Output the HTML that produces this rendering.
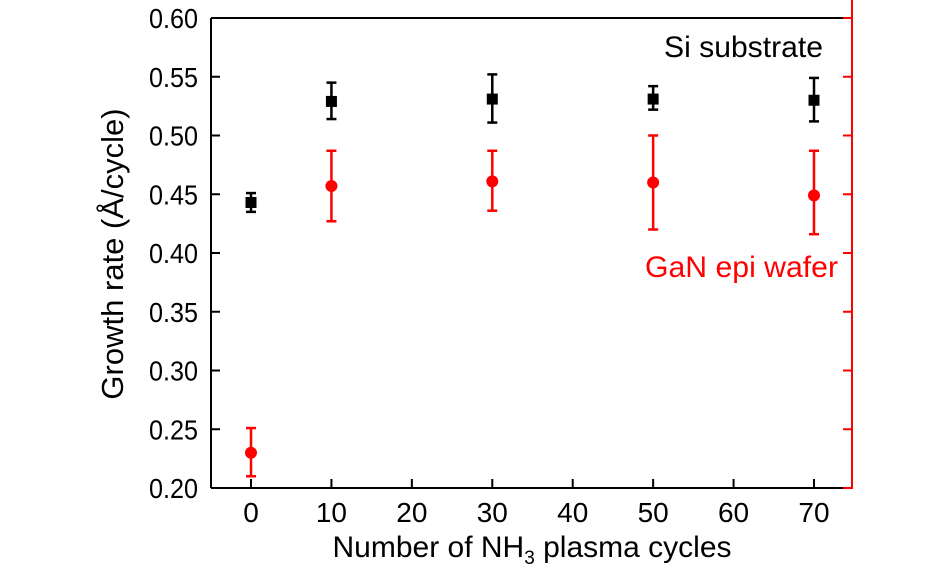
<!DOCTYPE html>
<html><head><meta charset="utf-8"><style>
html,body{margin:0;padding:0;background:#fff;}
svg{display:block;font-family:"Liberation Sans",sans-serif;}
</style></head><body>
<svg id="chart" width="945" height="573" viewBox="0 0 945 573"></svg>
<script>
const xTicks=[0,10,20,30,40,50,60,70];
const yTicks=[0.20,0.25,0.30,0.35,0.40,0.45,0.50,0.55,0.60];
const cycles=[0,10,30,50,70];
const siVals=[0.443,0.529,0.531,0.531,0.530];
const siLo=[0.435,0.514,0.511,0.522,0.512];
const siHi=[0.451,0.545,0.552,0.542,0.549];
const ganVals=[0.230,0.457,0.461,0.460,0.449];
const ganLo=[0.210,0.427,0.436,0.420,0.416];
const ganHi=[0.251,0.487,0.487,0.500,0.487];

const L=211,R=852,T=18,B=488;
const xs=v=>251+(v-0)*(814-251)/70;
const ys=v=>B-(v-0.2)*(B-T)/0.4;
const svg=document.getElementById('chart');
const NS='http://www.w3.org/2000/svg';
function mk(tag,attrs,parent){const e=document.createElementNS(NS,tag);for(const k in attrs)e.setAttribute(k,attrs[k]);(parent||svg).appendChild(e);return e;}

let e;
e=mk('line',{x1:L,y1:T,x2:L,y2:B,stroke:'#000','stroke-width':2});


e=mk('line',{x1:L,y1:T,x2:R,y2:T,stroke:'#000','stroke-width':2});


e=mk('line',{x1:L,y1:B,x2:R,y2:B,stroke:'#000','stroke-width':2});


e=mk('line',{x1:R,y1:0,x2:R,y2:B+1,stroke:'#f00','stroke-width':2});



yTicks.forEach(v=>{
  const y=ys(v);
  let t=mk('line',{x1:L,y1:y,x2:L+9,y2:y,stroke:'#000','stroke-width':2});
  
  
  t=mk('line',{x1:R-9,y1:y,x2:R,y2:y,stroke:'#f00','stroke-width':2});
  
  
  const lb=mk('text',{x:L-13,y:y+10,'text-anchor':'end','font-size':28,fill:'#000',textLength:49,lengthAdjust:'spacingAndGlyphs'});
  lb.textContent=v.toFixed(2);
  
  
});
xTicks.forEach(v=>{
  const x=xs(v);
  let t=mk('line',{x1:x,y1:B,x2:x,y2:B-9,stroke:'#000','stroke-width':2});
  
  
  const lb=mk('text',{x:x,y:B+34,'text-anchor':'middle','font-size':28,fill:'#000'});
  lb.textContent=v;
  
  
});

function series(vals,lo,hi,color,name,shape){
  cycles.forEach((c,i)=>{
    const x=xs(c);
    const g=mk('g',{});
    
    
    mk('line',{x1:x,y1:ys(lo[i]),x2:x,y2:ys(hi[i]),stroke:color,'stroke-width':2.5},g);
    mk('line',{x1:x-5,y1:ys(lo[i]),x2:x+5,y2:ys(lo[i]),stroke:color,'stroke-width':2.5},g);
    mk('line',{x1:x-5,y1:ys(hi[i]),x2:x+5,y2:ys(hi[i]),stroke:color,'stroke-width':2.5},g);
    if(shape==='sq') mk('rect',{x:x-5.5,y:ys(vals[i])-5.5,width:11,height:11,fill:color},g);
    else mk('circle',{cx:x,cy:ys(vals[i]),r:6,fill:color},g);
  });
}
series(siVals,siLo,siHi,'#000','si-substrate','sq');
series(ganVals,ganLo,ganHi,'#f00','gan-epi-wafer','ci');

e=mk('text',{x:823,y:57,'text-anchor':'end','font-size':30,fill:'#000',textLength:159,lengthAdjust:'spacingAndGlyphs'});
e.textContent='Si substrate';


e=mk('text',{x:838,y:277,'text-anchor':'end','font-size':30,fill:'#f00',textLength:193,lengthAdjust:'spacingAndGlyphs'});
e.textContent='GaN epi wafer';



e=mk('text',{x:532,y:557,'text-anchor':'middle','font-size':30,fill:'#000'});
e.innerHTML='Number of NH<tspan font-size="19" dy="7">3</tspan><tspan dy="-7"> plasma cycles</tspan>';


e=mk('text',{x:0,y:0,'text-anchor':'middle','font-size':31,fill:'#000',transform:'translate(123,254) rotate(-90)'});
e.textContent='Growth rate (Å/cycle)';


</script>
</body></html>
